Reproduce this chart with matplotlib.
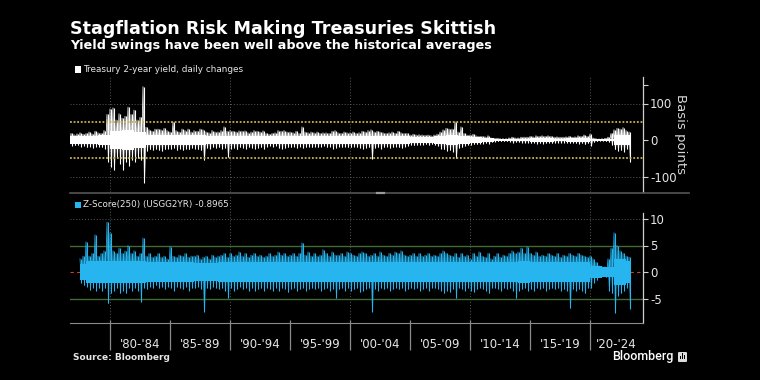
import numpy as np
import matplotlib.pyplot as plt
from matplotlib.lines import Line2D
from matplotlib.patches import Rectangle, FancyBboxPatch

# ---------------- data ----------------
# quarterly extremes of the daily series
step = 0.25
top_start = 1976.5
top_up = [14, 18,
          15, 17, 20, 16,  18, 22, 17, 24,  20, 18, 26, 70,
          85, 88, 55, 72,  60, 65, 90, 70,  82, 55, 62, 146,
          35, 28, 24, 30,  30, 28, 32, 26,  22, 49, 26, 22,
          30, 26, 30, 22,  26, 24, 30, 28,  22, 20, 26, 22,
          22, 26, 36, 24,  26, 24, 22, 25,  24, 25, 20, 22,
          26, 24, 22, 25,  18, 16, 18, 20,  26, 24, 26, 22,
          22, 20, 24, 18,  36, 22, 20, 22,  20, 22, 18, 20,
          20, 18, 24, 26,  20, 18, 22, 20,  20, 22, 18, 20,
          24, 22, 26, 28,  22, 24, 22, 20,  18, 20, 22, 18,
          24, 20, 18, 18,  14, 16, 14, 15,  14, 13, 14, 12,
          14, 16, 22, 28,  32, 30, 30, 50,  22, 36, 18, 14,
          14, 16, 12, 10,  10, 9, 12, 6,    5, 5, 4, 4,
          4, 6, 8, 6,      6, 8, 8, 8,      10, 9, 12, 10,
          12, 10, 12, 10,  8, 9, 8, 8,      9, 10, 8, 9,
          12, 10, 14, 10,  16, 6, 4, 3,     4, 5, 8, 18,
          28, 32, 30, 34,  26, 22]
top_lo = [-14, -16,
          -15, -14, -18, -16,  -20, -18, -22, -18,  -18, -20, -24, -60,
          -74, -82, -50, -65,  -82, -60, -70, -55,  -60, -50, -55, -117,
          -30, -26, -28, -25,  -28, -30, -26, -24,  -25, -22, -28, -24,
          -28, -24, -26, -22,  -24, -26, -28, -55,  -22, -24, -20, -22,
          -20, -24, -22, -47,  -24, -22, -26, -20,  -22, -24, -20, -22,
          -24, -22, -20, -24,  -18, -16, -18, -16,  -22, -24, -22, -20,
          -20, -18, -22, -18,  -22, -20, -18, -20,  -18, -20, -18, -16,
          -20, -18, -24, -22,  -18, -20, -18, -20,  -20, -18, -20, -22,
          -24, -22, -20, -52,  -22, -20, -24, -20,  -18, -22, -20, -18,
          -20, -22, -18, -16,  -14, -15, -14, -13,  -13, -12, -14, -12,
          -14, -16, -24, -26,  -30, -28, -32, -50,  -22, -20, -16, -14,
          -14, -12, -12, -10,  -10, -9, -10, -6,    -5, -4, -4, -4,
          -4, -5, -7, -6,      -6, -7, -8, -7,      -9, -8, -10, -9,
          -10, -9, -8, -9,     -8, -7, -8, -7,      -8, -9, -8, -9,
          -10, -9, -12, -9,    -16, -6, -4, -3,     -3, -4, -6, -14,
          -26, -30, -28, -32,  -24, -60]
# yearly half-width of the dense core of the band
top_core_years = list(range(1976, 2024))
top_core = [10, 10, 12, 14, 25, 27, 22, 15, 15, 13,
            13, 13, 12, 12, 12, 12, 12, 10, 12, 11,
            11, 10, 11, 10, 10, 12, 11, 10, 10, 8,
            7, 10, 15, 11, 7, 5, 2.5, 3, 4, 5,
            5, 4, 5, 6, 4, 3, 14, 13]

z_start = 1977.5
z_up = [2.5, 3.0,
        5.7, 3.0, 3.5, 7.0,  3.0, 3.5, 4.0, 9.4,  7.4, 4.0, 3.5, 4.5,
        3.5, 4.0, 5.0, 3.5,  4.0, 3.0, 3.5, 6.4,  3.0, 3.5, 2.8, 3.0,
        3.5, 2.8, 3.0, 2.5,  4.8, 3.0, 2.8, 3.2,  3.0, 3.5, 2.8, 3.0,
        3.0, 3.2, 2.5, 2.8,  3.0, 2.5, 3.2, 2.8,  3.0, 3.2, 3.5, 2.8,
        3.5, 3.0, 3.2, 3.8,  3.0, 3.5, 2.8, 3.2,  3.5, 3.0, 3.2, 2.8,
        3.0, 3.5, 3.0, 3.2,  3.8, 3.2, 3.5, 3.0,  3.2, 3.5, 3.0, 3.5,
        5.5, 3.2, 3.8, 3.0,  3.5, 3.0, 3.2, 4.2,  3.5, 3.0, 3.8, 3.2,
        3.2, 3.5, 3.0, 3.8,  3.5, 3.2, 3.0, 3.5,  3.8, 3.5, 3.0, 3.2,
        3.5, 3.0, 3.8, 3.2,  3.0, 3.5, 3.2, 3.8,  3.5, 4.0, 3.2, 3.0,
        3.2, 3.5, 3.0, 3.5,  3.0, 3.2, 3.5, 3.0,  3.2, 3.0, 3.5, 4.0,
        3.5, 3.2, 3.0, 3.5,  2.8, 3.5, 3.0, 3.2,  2.5, 3.5, 3.0, 3.8,
        3.0, 2.8, 3.5, 2.5,  3.0, 3.5, 2.8, 3.2,  3.0, 3.5, 4.0, 3.5,
        3.8, 4.5, 3.5, 4.8,  3.5, 3.2, 3.8, 3.0,  3.2, 3.0, 3.5, 3.2,
        3.0, 3.5, 2.8, 3.2,  3.0, 3.5, 3.2, 3.0,  3.5, 3.2, 3.0, 2.8,
        3.0, 2.5, 1.8, 1.2,  1.0, 1.0, 2.5, 4.5,  7.4, 5.0, 4.0, 3.5,
        3.0, 2.8]
z_lo = [-2.0, -2.5,
        -2.8, -3.4, -3.0, -3.5,  -3.0, -3.5, -3.0, -5.9,  -4.0, -3.5, -3.0, -4.0,
        -3.5, -4.0, -3.0, -3.5,  -3.0, -3.5, -5.6, -3.0,  -3.2, -2.8, -3.0, -2.5,
        -3.0, -2.8, -3.2, -2.8,  -3.0, -3.5, -2.8, -3.0,  -3.2, -2.8, -3.5, -3.0,
        -3.0, -2.8, -3.2, -7.5,  -3.0, -3.2, -2.8, -3.0,  -3.2, -3.0, -3.5, -4.9,
        -3.0, -3.5, -3.2, -2.8,  -3.2, -3.0, -3.5, -3.0,  -3.5, -3.2, -3.0, -3.5,
        -3.0, -3.2, -3.5, -3.0,  -3.5, -3.0, -3.2, -3.8,  -3.2, -3.0, -3.5, -3.2,
        -3.0, -3.5, -3.2, -3.0,  -3.2, -3.0, -3.5, -3.2,  -3.0, -3.5, -3.2, -4.9,
        -3.2, -3.0, -3.5, -3.0,  -3.5, -3.2, -3.0, -3.8,  -3.5, -3.2, -3.0, -7.5,
        -3.2, -3.5, -3.0, -3.2,  -3.0, -3.5, -3.2, -3.0,  -3.2, -3.0, -3.5, -3.2,
        -3.0, -3.2, -3.0, -3.5,  -3.2, -3.0, -3.5, -3.0,  -3.0, -3.2, -3.5, -4.0,
        -3.5, -3.8, -3.2, -4.9,  -3.0, -3.2, -3.5, -3.0,  -3.5, -3.8, -3.2, -3.0,
        -3.2, -3.5, -4.0, -3.0,  -3.0, -3.2, -3.5, -3.0,  -3.2, -3.0, -3.5, -4.9,
        -3.5, -3.2, -3.0, -3.5,  -3.2, -3.5, -3.0, -3.2,  -3.0, -3.5, -3.2, -3.0,
        -3.2, -3.0, -3.5, -3.2,  -3.5, -6.8, -3.2, -3.5,  -3.2, -3.5, -4.0, -3.0,
        -3.0, -2.0, -1.5, -1.0,  -0.8, -1.0, -3.5, -4.0,  -7.7, -4.5, -4.0, -3.5,
        -3.0, -6.9]
z_core_years = list(range(1977, 2024))
z_core = [1.5, 2.0, 2.1, 2.1, 2.0, 2.0, 1.8, 1.8, 1.8, 1.8,
          1.7, 1.7, 1.8, 1.8, 1.8, 1.8, 1.8, 1.9, 1.8, 1.8,
          1.8, 1.8, 1.8, 1.8, 1.8, 1.8, 1.8, 1.9, 1.8, 1.8,
          1.8, 1.9, 1.8, 1.9, 1.8, 1.8, 1.9, 2.0, 1.9, 1.8,
          1.8, 1.8, 1.8, 1.1, 0.9, 2.4, 2.0]

period_starts = [1980, 1985, 1990, 1995, 2000, 2005, 2010, 2015, 2020]
period_labels = ["'80-'84", "'85-'89", "'90-'94", "'95-'99", "'00-'04",
                 "'05-'09", "'10-'14", "'15-'19", "'20-'24"]
top_ticks = [150, 100, 0, -100]
top_ticklabels = ["", "100", "0", "-100"]
z_ticks = [10, 5, 0, -5]
z_ticklabels = ["10", "5", "0", "-5"]
latest_z = -0.8965

# ---------------- helpers ----------------
def bins(start, n):
    return start + step * np.arange(n)

def zigzag(start, up, lo):
    n = len(up)
    t = bins(start, n)
    x = np.empty(2 * n)
    y = np.empty(2 * n)
    x[0::2] = t
    x[1::2] = t + step / 2
    y[0::2] = up
    y[1::2] = lo
    return x, y

def draw_band(ax, start, up, lo, core_years, core, color, end):
    t = bins(start, len(up))
    cy = np.array(core_years, dtype=float)
    cy[0] = max(cy[0], start)
    cx = np.append(cy, end)
    cv = np.append(core, core[-1])
    ax.fill_between(cx, -cv, cv, step="post", color=color, lw=0, zorder=3)
    ax.vlines(t + step / 4, lo, up, color=color, lw=0.8, zorder=3)
    x, y = zigzag(start, up, lo)
    ax.plot(x, y, color=color, lw=0.55, zorder=3)

BG = "black"
TXT = "#e6e6e6"
XMIN, XMAX = 1980 - 40 / 12, 1980 + 533 / 12

fig = plt.figure(figsize=(7.6, 3.8), dpi=100, facecolor=BG)
W, H = 760, 380
def fx(px): return px / W
def fy(py): return 1 - py / H

ax1 = fig.add_axes([fx(70), fy(192), (643 - 70) / W, (192 - 77) / H], facecolor=BG)
ax2 = fig.add_axes([fx(70), fy(323), (643 - 70) / W, (323 - 196) / H], facecolor=BG)

for ax in (ax1, ax2):
    ax.set_xlim(XMIN, XMAX)
    for s in ("left", "top"):
        ax.spines[s].set_visible(False)
    ax.spines["right"].set_color("#d0d0d0")
    ax.spines["right"].set_linewidth(0.9)
    ax.yaxis.tick_right()
    ax.tick_params(axis="y", colors="#d0d0d0", labelcolor=TXT, length=3.5,
                   width=0.8, labelsize=8.5, pad=1.5)
    for yr in range(1980, 2021, 10):
        ax.axvline(yr, color="#5a5a5a", lw=0.7, ls=(0, (1, 2)), zorder=1)

# ---- top panel
ax1.set_ylim(-(192 - 140) / 0.365, (140 - 77) / 0.365)
ax1.spines["bottom"].set_visible(False)
ax1.set_xticks([])
ax1.set_yticks(top_ticks)
ax1.set_yticklabels(top_ticklabels)
for yv in (100, -100):
    ax1.axhline(yv, color="#5a5a5a", lw=0.7, ls=(0, (1, 2)), zorder=1)
end1 = top_start + step * len(top_up) - step / 2
draw_band(ax1, top_start, top_up, top_lo, top_core_years, top_core, "white", end1)
for yv in (50, -50):
    ax1.axhline(yv, color="#c9b44a", lw=1.3, ls=(0, (1, 1)), zorder=4)
ax1.text(1.066, 0.5, "Basis points", transform=ax1.transAxes, rotation=270,
         ha="center", va="center", color="#d8d8d8", fontsize=9.5)

# ---- bottom panel
ax2.set_ylim(-(323 - 272) / 5.3, (272 - 196) / 5.3)
ax2.spines["right"].set_bounds(-(323 - 272) / 5.3, (272 - 213) / 5.3)
ax2.spines["bottom"].set_color("#8a8a8a")
ax2.set_yticks(z_ticks)
ax2.set_yticklabels(z_ticklabels)
ax2.axhline(10, color="#5a5a5a", lw=0.7, ls=(0, (1, 2)), zorder=1)
for yv in (5, -5):
    ax2.axhline(yv, color="#3f6b34", lw=1.0, zorder=2)
ax2.axhline(0, color="#c8432b", lw=0.8, ls=(0, (3, 3)), zorder=2)
end2 = z_start + step * len(z_up) - step / 2
draw_band(ax2, z_start, z_up, z_lo, z_core_years, z_core, "#26b5ee", end2)

# period separators and labels
ax2.set_xticks([])
xtr = ax2.get_xaxis_transform()
ax2.vlines(period_starts, -0.213, 0.025, transform=xtr, color="#8a8a8a",
           lw=0.9, clip_on=False)
bounds = period_starts + [XMAX]
for i, lab in enumerate(period_labels):
    mid = (bounds[i] + bounds[i + 1]) / 2
    ax2.text(mid, -0.17, lab, transform=xtr, ha="center", va="center",
             color=TXT, fontsize=8.5)

# separator line between panels
fig.add_artist(Line2D([fx(70), fx(689)], [fy(193), fy(193)], color="#555555", lw=1.2))
fig.add_artist(Line2D([fx(377), fx(384)], [fy(193), fy(193)], color="#9a9a9a", lw=1.6))

# legends
fig.add_artist(Rectangle((fx(74.5), fy(72.5)), 6 / W, 6 / H, color="white", lw=0))
fig.text(fx(83), fy(69), "Treasury 2-year yield, daily changes", color=TXT,
         fontsize=6.4, va="center", ha="left")
fig.add_artist(Rectangle((fx(74.5), fy(207.5)), 6 / W, 6 / H, color="#26b5ee", lw=0))
fig.text(fx(83), fy(204), f"Z-Score(250) (USGG2YR) {latest_z:.4f}", color=TXT,
         fontsize=6.3, va="center", ha="left")

# titles
fig.text(fx(70), fy(29), "Stagflation Risk Making Treasuries Skittish", color="white",
         fontsize=12.6, fontweight="bold", va="center", ha="left")
fig.text(fx(70), fy(46), "Yield swings have been well above the historical averages",
         color="white", fontsize=9.2, fontweight="bold", va="center", ha="left")
fig.text(fx(73), fy(358), "Source: Bloomberg", color=TXT, fontsize=6.5,
         fontweight="bold", va="center", ha="left")
fig.text(fx(612), fy(356.5), "Bloomberg", color="white", fontsize=9,
         family="Roboto", fontweight="medium", va="center", ha="left")
fig.add_artist(FancyBboxPatch((fx(678), fy(362)), 9 / W, 10 / H,
                              boxstyle="round,pad=0,rounding_size=0.002",
                              color="#dddddd", lw=0))
for k, hgt in enumerate([3, 6, 4]):
    fig.add_artist(Rectangle((fx(680 + 2 * k), fy(359)), 1.2 / W, hgt / H,
                             color="black", lw=0))

fig.savefig("out.png", dpi=100, facecolor=BG)
